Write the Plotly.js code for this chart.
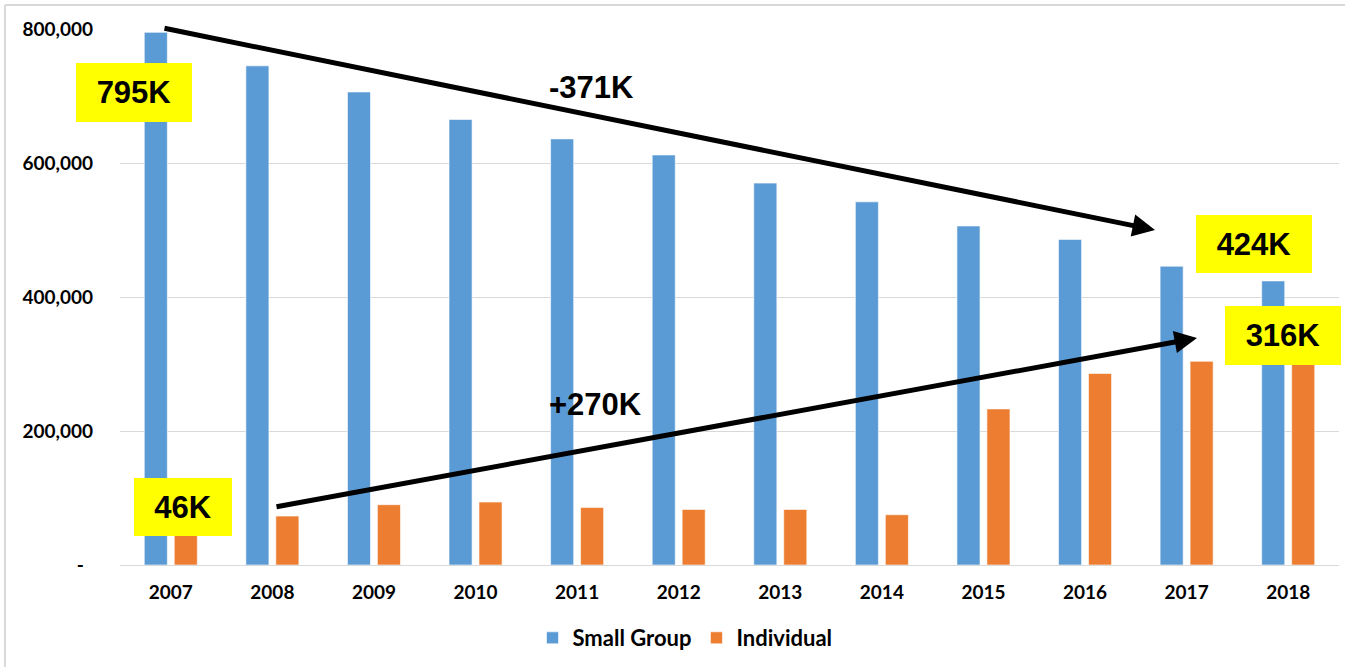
<!DOCTYPE html>
<html>
<head>
<meta charset="utf-8">
<script src="https://cdn.plot.ly/plotly-3.0.1.min.js"></script>
<style>
  html, body { margin: 0; padding: 0; background: #ffffff; }
  #chart { width: 1345px; height: 667px; }
</style>
</head>
<body>
<div id="chart"></div>
<script>
// ---- Data ----
const years = ['2007','2008','2009','2010','2011','2012','2013','2014','2015','2016','2017','2018'];
const smallGroup = [795000, 745000, 706000, 665000, 636000, 612000, 570000, 542000, 506000, 486000, 446000, 424000];
const individual = [46000, 73000, 90000, 94000, 86000, 83000, 83000, 75000, 233000, 286000, 304000, 316000];
const yTickVals = [0, 200000, 400000, 600000, 800000];
const yTickText = ['-\u00a0\u00a0', '200,000', '400,000', '600,000', '800,000'];
const calloutLabels = ['795K', '46K', '424K', '316K'];
const changeLabels = ['-371K', '+270K'];

// ---- Layout helpers (pixel -> paper) ----
const L = 120, R = 1339, T = 29, B = 565;
const px = x => (x - L) / (R - L);
const py = y => (B - y) / (B - T);

const tickFont = { family: 'Lato, "Open Sans", sans-serif', size: 19, color: '#000000', weight: 700 };
const boxFont = { family: '"Liberation Sans", Arial, sans-serif', size: 31, color: '#000000', weight: 700 };

const traces = [
  {
    type: 'bar', name: 'Small Group', x: years, y: smallGroup,
    marker: { color: '#5b9bd5', line: { color: 'rgba(255,255,255,0.6)', width: 1 } }
  },
  {
    type: 'bar', name: 'Individual', x: years, y: individual,
    marker: { color: '#ed7d31', line: { color: 'rgba(255,255,255,0.6)', width: 1 } }
  }
];

function callout(text, cx, cy, w, h) {
  return {
    xref: 'paper', yref: 'paper', x: px(cx), y: py(cy),
    xanchor: 'center', yanchor: 'middle',
    text: text, showarrow: false, font: boxFont,
    bgcolor: '#ffff00', width: w, height: h, borderpad: 0, borderwidth: 0
  };
}
function arrow(hx, hy, tx, ty) {
  return {
    xref: 'paper', yref: 'paper', x: px(hx), y: py(hy),
    ax: tx - hx, ay: ty - hy, text: '', showarrow: true,
    arrowhead: 2, arrowsize: 0.9, arrowwidth: 5, arrowcolor: '#000000',
    standoff: 0, startstandoff: 0
  };
}
function label(text, cx, cy) {
  return {
    xref: 'paper', yref: 'paper', x: px(cx), y: py(cy),
    xanchor: 'center', yanchor: 'middle', text: text, showarrow: false, font: boxFont
  };
}

const layout = {
  width: 1345, height: 667,
  margin: { l: L, r: 1345 - R, t: T, b: 667 - B, pad: 0 },
  paper_bgcolor: '#ffffff', plot_bgcolor: '#ffffff',
  barmode: 'group', bargap: 0.41, bargroupgap: 0.23,
  showlegend: true,
  legend: {
    orientation: 'h', xref: 'paper', yref: 'paper', x: px(685), y: py(638),
    xanchor: 'center', yanchor: 'middle',
    font: { family: 'Lato, "Open Sans", sans-serif', size: 22, color: '#000000', weight: 700 },
    itemwidth: 30, tracegroupgap: 0
  },
  xaxis: {
    type: 'category', tickfont: tickFont, showgrid: false, showline: false,
    ticks: '', ticklabelstandoff: 14, zeroline: false
  },
  yaxis: {
    range: [0, 800000], tickvals: yTickVals, ticktext: yTickText, tickfont: tickFont,
    showgrid: true, gridcolor: '#d9d9d9', gridwidth: 1, zeroline: true, zerolinecolor: '#d9d9d9',
    zerolinewidth: 1, showline: false, ticks: '', ticklabelstandoff: 26
  },
  shapes: [
    { type: 'line', xref: 'paper', yref: 'paper', x0: px(5), x1: px(1345), y0: py(5), y1: py(5),
      line: { color: '#d9d9d9', width: 2 }, layer: 'below' },
    { type: 'line', xref: 'paper', yref: 'paper', x0: px(5), x1: px(5), y0: py(5), y1: py(667),
      line: { color: '#d9d9d9', width: 2 }, layer: 'below' }
  ],
  annotations: [
    arrow(1155, 230, 163, 28),
    arrow(1197, 338, 275, 507),
    label(changeLabels[0], 591, 87),
    label(changeLabels[1], 595, 404),
    callout(calloutLabels[0], 134, 92.5, 116, 59),
    callout(calloutLabels[1], 183, 507, 98, 58),
    callout(calloutLabels[2], 1254, 244, 116, 58),
    callout(calloutLabels[3], 1283, 335.5, 116, 59)
  ]
};

Plotly.newPlot('chart', traces, layout, { displayModeBar: false, staticPlot: true });
</script>
</body>
</html>
